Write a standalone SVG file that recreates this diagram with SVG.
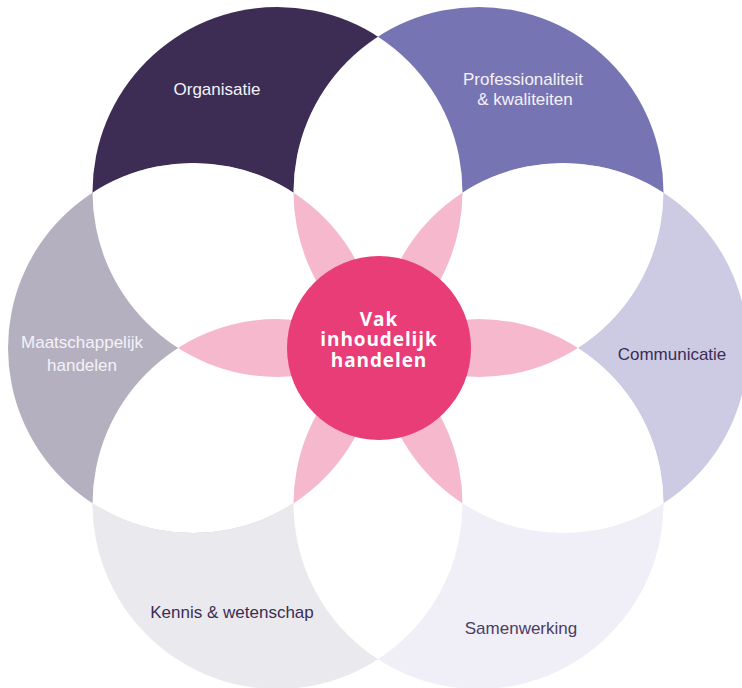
<svg xmlns="http://www.w3.org/2000/svg" width="742" height="688" viewBox="0 0 742 688">
  <style>
    .lbl { font-family: "Liberation Sans", Arial, sans-serif; font-size: 17px; text-anchor: middle; }
    .light { fill: #f4f2f8; }
    .dark { fill: #3d2c55; }
    .ctr { font-family: "Open Sans", "Liberation Sans", sans-serif; font-weight: 700; font-size: 19px; letter-spacing: 0.9px; fill: #ffffff; text-anchor: middle; }
    .lens { fill: #ffffff; }
    .petal { fill: #f5b8cd; }
  </style>
  <defs>
    <circle id="cO" cx="277.5" cy="192" r="185"/>
    <circle id="cP" cx="478.5" cy="192" r="185"/>
    <circle id="cC" cx="563" cy="348" r="185"/>
    <circle id="cS" cx="478.5" cy="504" r="185"/>
    <circle id="cK" cx="277.5" cy="504" r="185"/>
    <circle id="cM" cx="193" cy="348" r="185"/>
    <clipPath id="kO"><use href="#cO"/></clipPath>
    <clipPath id="kP"><use href="#cP"/></clipPath>
    <clipPath id="kC"><use href="#cC"/></clipPath>
    <clipPath id="kS"><use href="#cS"/></clipPath>
    <clipPath id="kK"><use href="#cK"/></clipPath>
    <clipPath id="kM"><use href="#cM"/></clipPath>
  </defs>
  <rect width="742" height="688" fill="#ffffff"/>

  <g id="organisatie">
    <use href="#cO" fill="#3d2d54"/>
    <text class="lbl light" x="217" y="95">Organisatie</text>
  </g>
  <g id="professionaliteit">
    <use href="#cP" fill="#7774b4"/>
    <text class="lbl light" x="523" y="85">Professionaliteit</text>
    <text class="lbl light" x="525" y="105">&amp; kwaliteiten</text>
  </g>
  <g id="communicatie">
    <use href="#cC" fill="#cdcbe4"/>
    <text class="lbl dark" x="672" y="360">Communicatie</text>
  </g>
  <g id="samenwerking">
    <use href="#cS" fill="#f0eff7"/>
    <text class="lbl" fill="#4a3d63" x="521" y="634">Samenwerking</text>
  </g>
  <g id="kennis">
    <use href="#cK" fill="#eaeaee"/>
    <text class="lbl dark" x="232" y="618">Kennis &amp; wetenschap</text>
  </g>
  <g id="maatschappelijk">
    <use href="#cM" fill="#b5b0c0"/>
    <text class="lbl light" x="82" y="348">Maatschappelijk</text>
    <text class="lbl light" x="82" y="371">handelen</text>
  </g>

  <g id="connectors">
    <g class="lens">
      <g clip-path="url(#kO)"><use href="#cP"/></g>
      <g clip-path="url(#kP)"><use href="#cC"/></g>
      <g clip-path="url(#kC)"><use href="#cS"/></g>
      <g clip-path="url(#kS)"><use href="#cK"/></g>
      <g clip-path="url(#kK)"><use href="#cM"/></g>
      <g clip-path="url(#kM)"><use href="#cO"/></g>
    </g>
    <g class="petal">
      <g clip-path="url(#kM)"><g clip-path="url(#kP)"><use href="#cO"/></g></g>
      <g clip-path="url(#kO)"><g clip-path="url(#kC)"><use href="#cP"/></g></g>
      <g clip-path="url(#kP)"><g clip-path="url(#kS)"><use href="#cC"/></g></g>
      <g clip-path="url(#kC)"><g clip-path="url(#kK)"><use href="#cS"/></g></g>
      <g clip-path="url(#kS)"><g clip-path="url(#kM)"><use href="#cK"/></g></g>
      <g clip-path="url(#kK)"><g clip-path="url(#kO)"><use href="#cM"/></g></g>
    </g>
  </g>

  <g id="vak-inhoudelijk">
    <circle cx="379" cy="348" r="92" fill="#e93d78"/>
    <text class="ctr" x="379" y="325.5">Vak</text>
    <text class="ctr" x="379" y="346">inhoudelijk</text>
    <text class="ctr" x="379" y="366.5">handelen</text>
  </g>
</svg>
